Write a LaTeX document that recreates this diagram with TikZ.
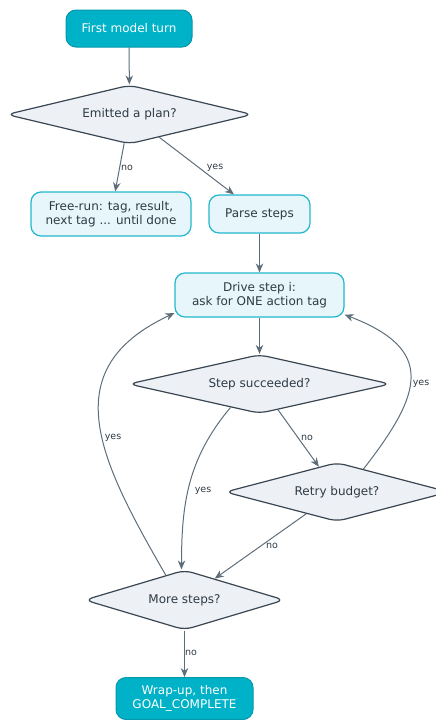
\documentclass[tikz,border=0pt]{standalone}
\usepackage{fontspec}
\setmainfont{DejaVu Sans}
\usetikzlibrary{shapes.geometric,arrows.meta}
\definecolor{termfill}{HTML}{00B2C7}
\definecolor{termdraw}{HTML}{0697AA}
\definecolor{procfill}{HTML}{E7F6FA}
\definecolor{procdraw}{HTML}{22B7CF}
\definecolor{decfill}{HTML}{EDF1F5}
\definecolor{decdraw}{HTML}{3A4652}
\definecolor{txt}{HTML}{2E3A45}
\definecolor{edge}{HTML}{5E6D7A}
\tikzset{
  x=1pt, y=-1pt,
  base/.style={font=\fontsize{12}{13.5}\selectfont, align=center, inner sep=0pt},
  term/.style={base, rectangle, rounded corners=10pt, fill=termfill, draw=termdraw, line width=1pt, text=white},
  proc/.style={base, rectangle, rounded corners=10pt, fill=procfill, draw=procdraw, line width=1.2pt, text=txt},
  dec/.style={base, diamond, aspect=4, rounded corners=8pt, fill=decfill, draw=decdraw, line width=1.2pt, text=txt},
  conn/.style={draw=edge, line width=1pt, -{Stealth[length=9pt,width=7.5pt]}},
  lbl/.style={font=\fontsize{9.5}{10}\selectfont, text=txt, inner sep=0pt}
}
\begin{document}
\begin{tikzpicture}
\useasboundingbox (0,0) rectangle (436,720);
\node[term, minimum width=126pt, minimum height=37pt] (first) at (129,28.5) {First model turn};
\node[dec, minimum width=246pt, minimum height=59pt] (plan) at (129.5,114.5) {Emitted a plan?};
\node[proc, minimum width=160pt, minimum height=44pt] (free) at (111,214) {Free-run: tag, result,\\next tag ... until done};
\node[proc, minimum width=101pt, minimum height=38pt] (parse) at (259.5,214) {Parse steps};
\node[proc, minimum width=169pt, minimum height=44pt] (drive) at (259.5,295) {Drive step i:\\ask for ONE action tag};
\node[dec, minimum width=262pt, minimum height=59pt] (succ) at (259.5,384) {Step succeeded?};
\node[dec, minimum width=224pt, minimum height=59pt] (retry) at (337,492) {Retry budget?};
\node[dec, minimum width=200pt, minimum height=60pt] (more) at (184.5,600) {More steps?};
\node[term, minimum width=137pt, minimum height=42pt] (wrap) at (184.5,698.5) {Wrap-up, then\\GOAL\_COMPLETE};

\draw[conn] (first) -- (plan);
\draw[conn] (plan) -- (free);
\draw[conn] (plan) -- (parse);
\draw[conn] (parse) -- (drive);
\draw[conn] (drive) -- (succ);
\draw[conn] (succ) -- (retry);
\draw[conn] (succ.-141) to[out=-130,in=90] ([xshift=-3pt]more.north);
\draw[conn] (retry) -- (more);
\draw[conn] (retry.41) to[out=52,in=-21,looseness=1.6] (drive.-13);
\draw[conn] (more.127) to[out=120,in=205,looseness=1.3] (drive.192);
\draw[conn] (more) -- (wrap);

\node[lbl] (l1) at (127,168) {no};
\node[lbl] (l2) at (215,168) {yes};
\node[lbl] (l3) at (203,491) {yes};
\node[lbl] (l4) at (307,438) {no};
\node[lbl] (l5) at (113,438) {yes};
\node[lbl] (l6) at (421,384) {yes};
\node[lbl] (l7) at (272,546) {no};
\node[lbl] (l8) at (191,653) {no};
\end{tikzpicture}
\end{document}
